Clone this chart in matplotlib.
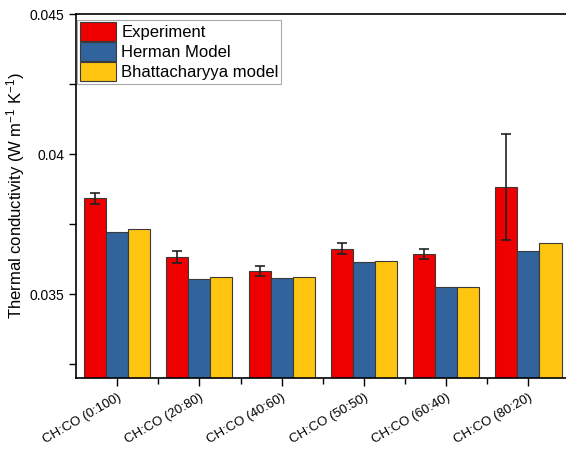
import matplotlib.pyplot as plt
import numpy as np
from matplotlib.ticker import MultipleLocator

plt.rcParams['font.family'] = ['Liberation Sans', 'DejaVu Sans']
plt.rcParams['mathtext.fontset'] = 'custom'
plt.rcParams['mathtext.rm'] = 'Liberation Sans'
plt.rcParams['mathtext.default'] = 'regular'

samples = ["CH:CO (0:100)", "CH:CO (20:80)", "CH:CO (40:60)",
           "CH:CO (50:50)", "CH:CO (60:40)", "CH:CO (80:20)"]
experiment = [0.03842, 0.03632, 0.03583, 0.03662, 0.03643, 0.03882]
experiment_err = [0.0002, 0.0002, 0.00018, 0.00019, 0.00018, 0.0019]
herman = [0.03723, 0.03554, 0.03557, 0.03613, 0.03525, 0.03654]
bhattacharyya = [0.03733, 0.03560, 0.03561, 0.03617, 0.03526, 0.03682]

fig = plt.figure(figsize=(5.66, 4.49), dpi=100)
ax = fig.add_axes([0.1343, 0.158, 0.872, 0.8107])

x = np.arange(len(samples))
w = 0.268
edge = dict(edgecolor='#3a3a3a', linewidth=0.8)
ax.bar(x - w, experiment, w, color='#EE0000', label='Experiment', **edge)
ax.bar(x, herman, w, color='#31649C', label='Herman Model', **edge)
ax.bar(x + w, bhattacharyya, w, color='#FFC511', label='Bhattacharyya model', **edge)
ax.errorbar(x - w, experiment, yerr=experiment_err, fmt='none', ecolor='#222222',
            elinewidth=1.2, capsize=3.5, capthick=1.2)

ax.set_ylim(0.032, 0.045)
ax.set_xlim(-0.5, 5.5)
ax.yaxis.set_minor_locator(MultipleLocator(0.0025))
ax.set_yticks([0.035, 0.04, 0.045])
ax.set_yticklabels(['0.035', '0.04', '0.045'])
ax.set_xticks(x)
ax.set_xticks(x[:-1] + 0.5, minor=True)
ax.set_xticklabels(samples, rotation=30, ha='right', rotation_mode='anchor', fontsize=9.5)
ax.tick_params(axis='y', which='both', direction='out', length=5, width=1, labelsize=10)
ax.tick_params(axis='x', which='major', direction='out', length=6, width=1)
ax.tick_params(axis='x', which='minor', direction='out', length=4, width=1)
ax.set_ylabel('Thermal conductivity (W m$^{-1}$ K$^{-1}$)', fontsize=12)
ax.yaxis.set_label_coords(-0.1, 0.5)

for s in ['left', 'bottom', 'top']:
    ax.spines[s].set_linewidth(1.2)
ax.spines['right'].set_visible(False)

leg = ax.legend(loc='upper left', bbox_to_anchor=(0.002, 0.984), fontsize=12,
                fancybox=False, framealpha=1, edgecolor='#aaaaaa',
                handlelength=2.2, handleheight=1.35, labelspacing=0.08,
                handletextpad=0.3, borderpad=0.15, borderaxespad=0)
leg.get_frame().set_linewidth(0.8)

fig.savefig('out.png', dpi=100)
